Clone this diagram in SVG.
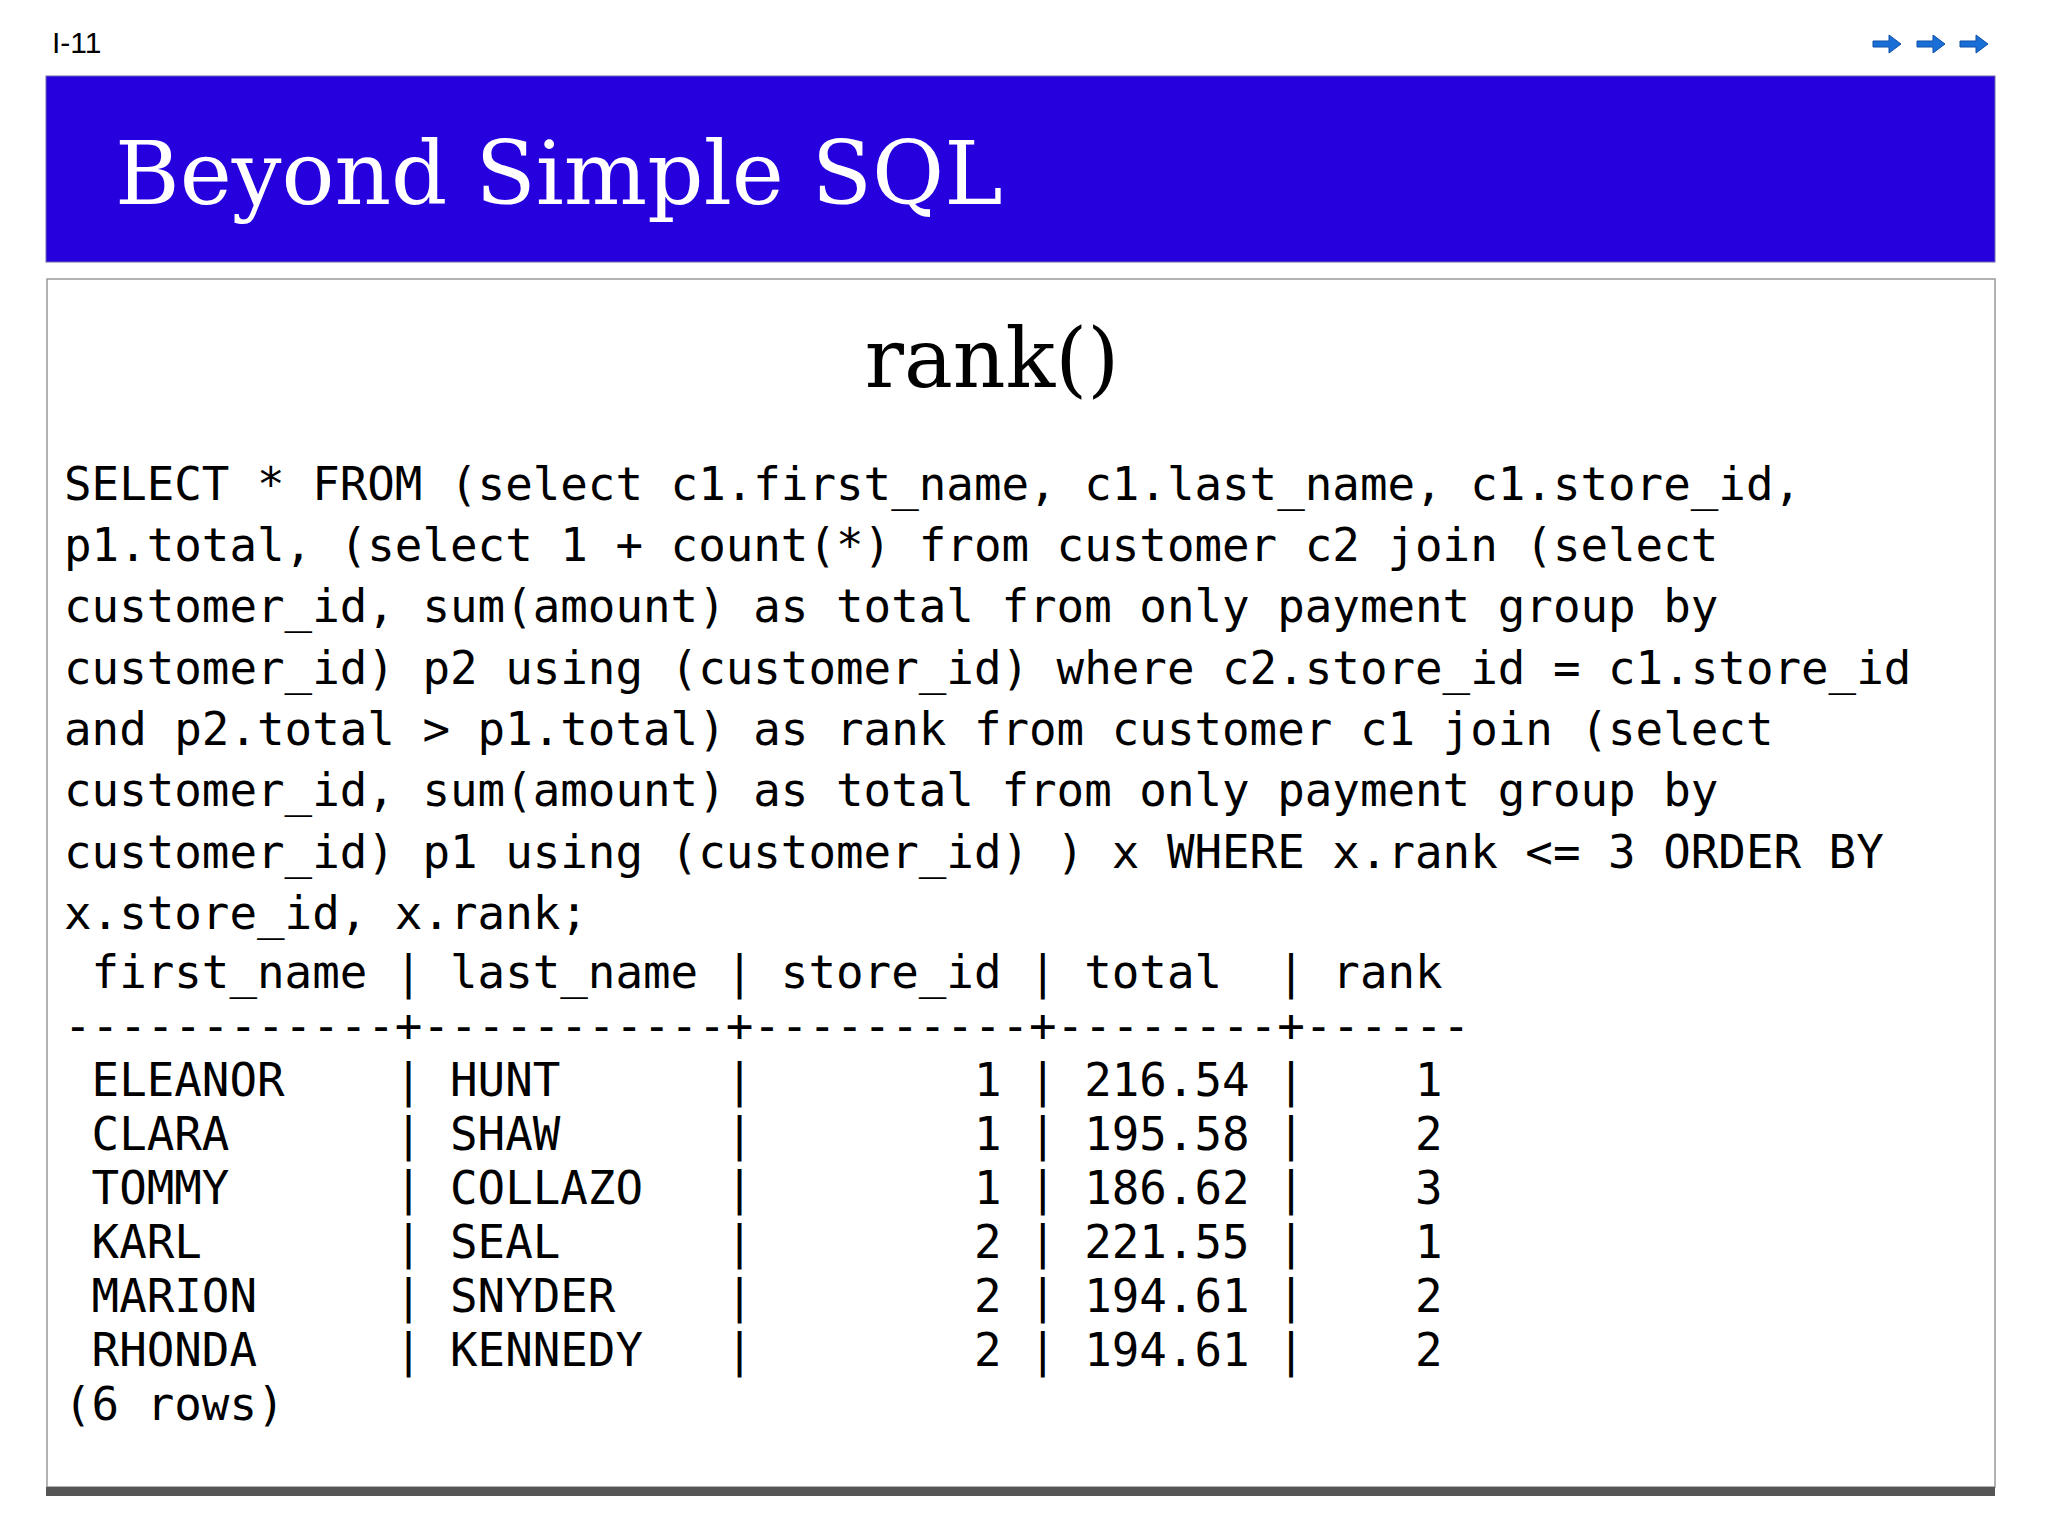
<svg xmlns="http://www.w3.org/2000/svg" width="2048" height="1535" viewBox="0 0 2048 1535" xml:space="preserve">
<style>
.m{font-family:"DejaVu Sans Mono",monospace;font-size:45.8px;fill:#000}
.m text{white-space:pre}
.s{font-family:"DejaVu Serif","Liberation Serif",serif}
</style>
<defs>
<g id="arr"><path d="M0,-3 h16 v-6 l12,9 l-12,9 v-6 h-16z" fill="#1a6fd6" stroke="#0d4fa8" stroke-width="1"/></g>
</defs>
<rect width="2048" height="1535" fill="#fff"/>
<text x="52" y="53" font-family="Liberation Sans,sans-serif" font-size="30">I-11</text>
<use href="#arr" x="1873" y="44"/><use href="#arr" x="1917" y="44"/><use href="#arr" x="1960" y="44"/>
<rect x="46" y="76" width="1949" height="186" fill="#2600dd" stroke="#6a6aa8" stroke-width="1"/>
<text x="115" y="204" class="s" font-size="88" fill="#fff">Beyond Simple SQL</text>
<rect x="47" y="279" width="1948" height="1208" fill="#fff" stroke="#999" stroke-width="1.5"/>
<rect x="46" y="1487" width="1949" height="9" fill="#555"/>
<text x="992" y="387" class="s" font-size="82" text-anchor="middle">rank()</text>
<g class="m">
<text x="64" y="500">SELECT * FROM (select c1.first_name, c1.last_name, c1.store_id,</text>
<text x="64" y="561">p1.total, (select 1 + count(*) from customer c2 join (select</text>
<text x="64" y="622">customer_id, sum(amount) as total from only payment group by</text>
<text x="64" y="684">customer_id) p2 using (customer_id) where c2.store_id = c1.store_id</text>
<text x="64" y="745">and p2.total &gt; p1.total) as rank from customer c1 join (select</text>
<text x="64" y="806">customer_id, sum(amount) as total from only payment group by</text>
<text x="64" y="868">customer_id) p1 using (customer_id) ) x WHERE x.rank &lt;= 3 ORDER BY</text>
<text x="64" y="929">x.store_id, x.rank;</text>
<text x="64" y="988"> first_name | last_name | store_id | total  | rank</text>
<text x="64" y="1042">------------+-----------+----------+--------+------</text>
<text x="64" y="1096"> ELEANOR    | HUNT      |        1 | 216.54 |    1</text>
<text x="64" y="1150"> CLARA      | SHAW      |        1 | 195.58 |    2</text>
<text x="64" y="1204"> TOMMY      | COLLAZO   |        1 | 186.62 |    3</text>
<text x="64" y="1258"> KARL       | SEAL      |        2 | 221.55 |    1</text>
<text x="64" y="1312"> MARION     | SNYDER    |        2 | 194.61 |    2</text>
<text x="64" y="1366"> RHONDA     | KENNEDY   |        2 | 194.61 |    2</text>
<text x="64" y="1420">(6 rows)</text>
</g>
</svg>
